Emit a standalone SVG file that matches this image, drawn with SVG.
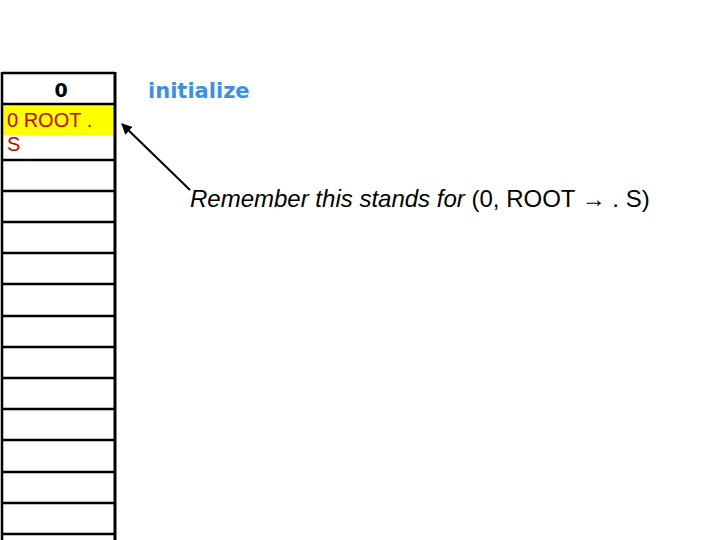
<svg xmlns="http://www.w3.org/2000/svg" width="720" height="540" viewBox="0 0 720 540">
<style>
.row{fill:none;stroke:#000;stroke-width:2.5}
.t{font-family:"Liberation Sans",Arial,sans-serif}
</style>
<defs>
<marker id="ah" viewBox="0 0 10 10" refX="9" refY="5" markerWidth="11" markerHeight="11" orient="auto-start-reverse" markerUnits="userSpaceOnUse">
<path d="M0,0 L10,5 L0,10 z" fill="#000"/>
</marker>
</defs>
<rect width="720" height="540" fill="#fff"/>
<g id="chart">
<rect x="2" y="104" width="112" height="31" fill="#ffff00"/>
<path class="row" d="M2,73 H115 M2,104 H115 M2,160 H115 M2,191 H115 M2,222 H115 M2,253 H115 M2,284 H115 M2,316 H115 M2,347 H115 M2,378 H115 M2,409 H115 M2,440 H115 M2,472 H115 M2,503 H115 M2,534 H115"/>
<path d="M2,72 V540" stroke="#000" stroke-width="2.5"/>
<path d="M115,72 V540" stroke="#000" stroke-width="3"/>
<text x="61" y="97" font-size="19" font-weight="bold" text-anchor="middle" font-family="'DejaVu Sans',sans-serif">0</text>
<text class="t" x="7" y="127" font-size="20" fill="#cc0000">0 ROOT .</text>
<text class="t" x="7" y="151" font-size="20" fill="#cc0000">S</text>
</g>
<g id="title">
<text x="148" y="98" font-size="21" font-weight="bold" fill="#3d8fe0" font-family="'DejaVu Sans',sans-serif">initialize</text>
</g>
<g id="connectors">
<line x1="190" y1="190" x2="122" y2="124" stroke="#000" stroke-width="2" marker-end="url(#ah)"/>
</g>
<g id="note">
<text class="t" x="190" y="207" font-size="24"><tspan font-style="italic">Remember this stands for</tspan> (0, ROOT → . S)</text>
</g>
</svg>
